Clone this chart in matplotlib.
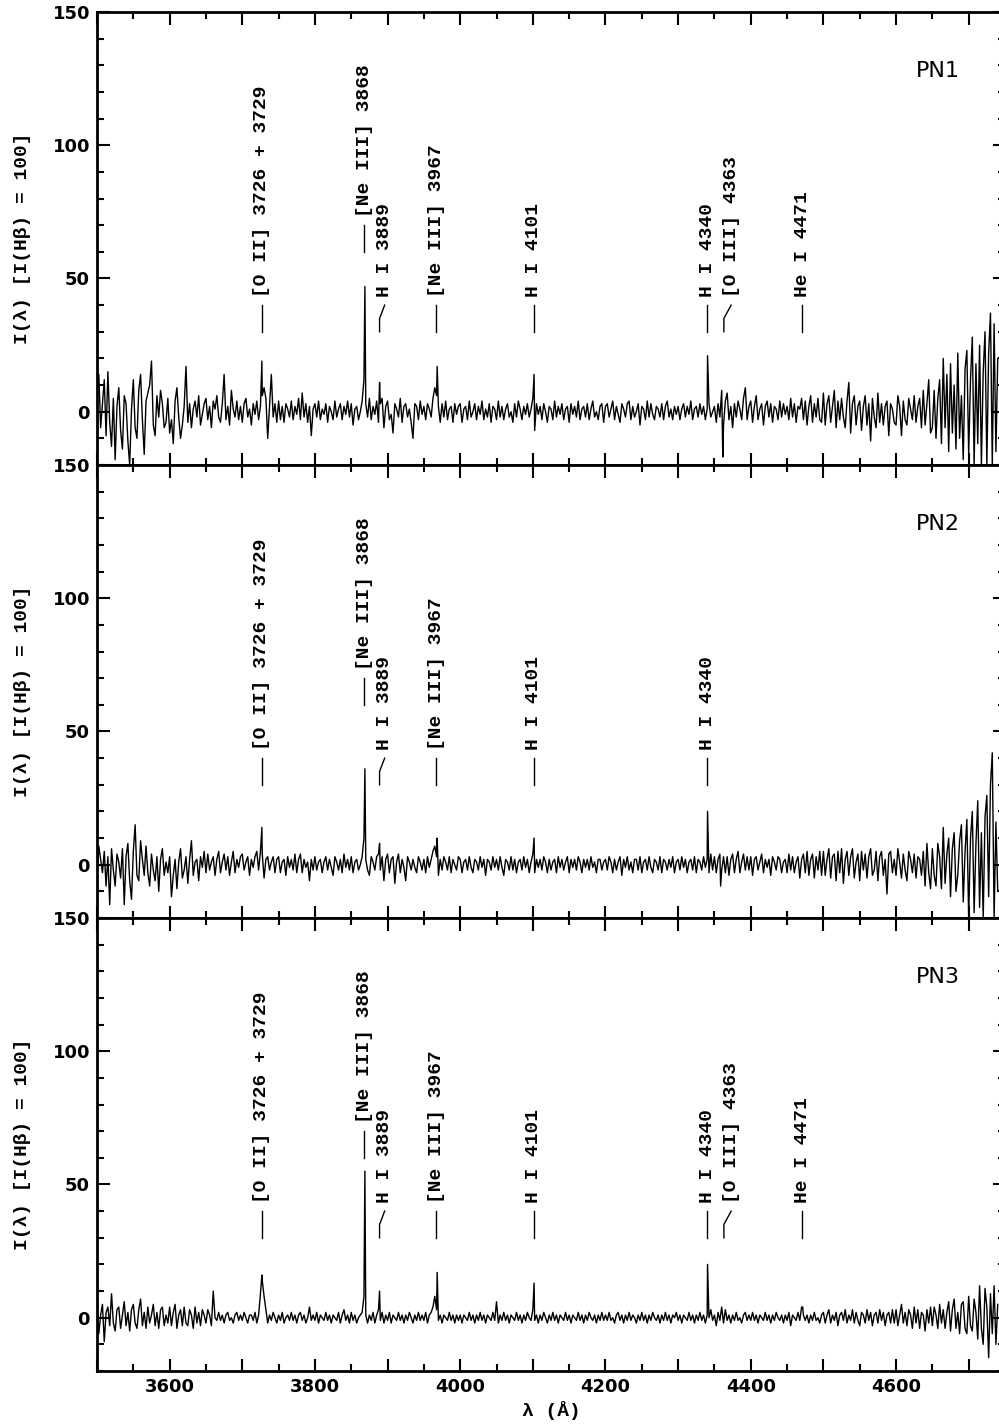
import numpy as np
import matplotlib
matplotlib.use('Agg')
from matplotlib import pyplot as plt
from matplotlib.ticker import MultipleLocator


wavelengths = np.arange(3500, 4742.5, 2.5)

pn1_flux = [
    # 3500
    8, 14, -6, 3, 12, -9, 15, -4, -13, 5, -18, 2, 9, -7, -14, 6, 3, -11, -20, 1,
    12, -6, -10, 8, 14, -3, -16, 4, 7, 10, 19, -5, -9, 6, -2, 8, 3, -6, -4, 5,
    # 3600
    -8, -3, -12, 4, 9, -2, -10, -5, 2, 17, -4, 3, -6, 1, 4, -2, 6, -5, -1, 3,
    5, -3, 2, -6, 4, 1, 6, -2, -4, 3, 14, -3, 2, -5, 8, 1, -2, 4, -3, 2,
    # 3700
    -4, 3, 5, -2, 1, -5, 3, -1, 4, -3, 2, 6, 9, 5, -10, 2, 14, -2, 3, -4,
    4, -3, 2, -4, 3, 1, -2, 4, -3, 2, -1, 5, -3, 7, -2, 3, -4, 2, -9, 1,
    # 3800
    3, -2, 4, -3, 1, -1, 3, -4, 2, 0, -3, 4, -2, 1, 3, -3, 2, -1, 4, -2,
    3, -5, 1, 2, -3, 0, 4, 12, 3, -2, 5, -3, 2, -1, 4, -4, 3, 5, -6, 2,
    # 3900
    4, -3, -1, -8, 3, 1, -2, 5, -4, 2, 3, -2, 1, -4, -10, 3, 2, -3, 4, -1,
    2, -3, 3, 1, -2, 5, 9, 6, 2, -4, 3, -2, 4, -3, 1, 2, -4, 3, -1, 2,
    # 4000
    3, -4, 1, 2, -3, 4, -2, 0, 3, -3, 2, -1, 4, -3, 1, -2, 3, -4, 2, 1,
    -3, 4, -2, 2, -3, 1, 3, -2, 0, -4, 3, -2, 4, 1, -3, 2, -1, 3, -2, 1,
    # 4100
    5, -7, 3, -1, 2, -3, 3, 0, -4, 2, 1, -3, 4, -2, 2, -1, 3, -3, 1, 2,
    -4, 3, -1, 2, -2, 4, -3, 1, 2, -2, 3, -3, 1, 4, -2, 0, -3, 2, 3, -4,
    # 4200
    2, 3, -2, 1, 4, -3, 2, -1, -4, 3, 1, -2, 3, 4, -3, 2, -2, 0, 3, -5,
    2, 1, -3, 4, -2, 3, -1, -3, 2, 1, -2, 3, -3, 2, 4, -2, 1, -3, 2, -1,
    # 4300
    2, -3, 1, 3, -2, 2, -1, 4, -3, 1, 2, -2, 3, -1, 2, -3, 1, 3, -2, 0,
    2, -4, 3, -2, 8, -5, 4, 7, -3, 2, -6, 3, -2, 4, 1, -3, 5, 9, -3, 2,
    # 4400
    4, -4, 2, 6, -3, 1, 3, -5, 2, 4, -2, 3, -4, 2, 1, -3, 4, -2, 3, -1,
    2, -3, 5, -2, 3, -4, 2, 1, 5, -3, 4, -5, 2, 6, -4, 3, -2, 5, -3, -4,
    # 4500
    7, -5, 3, 6, -4, 2, 8, -6, 4, -3, 5, -2, -6, 4, 11, -8, 3, 6, -5, 2,
    4, -7, 2, 6, -5, 3, -11, 5, -2, -6, 7, -4, 3, -5, 2, 4, -9, 3, 1, -4,
    # 4600
    -5, 6, 2, -9, 4, -3, -5, 5, 1, -3, 6, -4, 2, 5, -6, 8, -5, 3, 12, -8,
    -6, 8, -10, 5, 12, -12, 20, -6, 14, -15, 18, -8, 10, -14, 22, -10, 6, -18, 16, 23,
    # 4700
    -16, 12, 28, -20, 18, -12, 25, -20, 15, 30, -20, 22, 37, -20, 33, -15, 20,
]
pn1_peak_wl = [3727.0, 3868.8, 3889.0, 3968.3, 4101.7, 4340.5, 4361.5]
pn1_peak_flux = [19, 47, 11, 17, 14, 21, -17]

pn2_flux = [
    # 3500
    -6, 7, 2, -3, 5, -8, 3, -15, 6, -2, -8, 4, 1, -5, 6, -15, 3, 8, -6, -13,
    5, 15, -4, -6, 9, 2, -4, 7, -3, -8, 4, -2, -6, 3, -10, 2, 6, -4, 1, -3,
    # 3600
    3, -12, -4, 2, -9, 1, 6, -5, -2, 3, -7, 2, 9, -4, 1, 2, -6, 3, -1, 5,
    -3, 4, -2, 1, 3, -4, 2, 5, -3, 1, 4, -2, 3, -4, 1, 5, -3, 2, -1, 3,
    # 3700
    4, -2, 1, 3, -4, 2, -1, 3, 5, -2, 5, 4, -5, 2, 3, -2, 1, 3, -3, 2,
    3, -3, 1, 2, -4, 3, -1, 2, -2, 4, -3, 2, 4, -3, 2, -1, 1, -6, 2, -2,
    # 3800
    3, -2, 1, 2, -3, 1, 3, -2, 2, -1, -4, 3, 1, -2, 2, -3, 4, -1, 2, -2,
    3, -3, 1, 2, -2, 0, 3, 10, 2, -2, -4, 3, 1, -2, 3, 4, -2, 3, -6, 2,
    # 3900
    4, -3, 2, 3, -7, 1, 4, -3, 2, -1, -6, 3, 1, -2, 2, -1, -3, 3, 1, -2,
    2, -3, 3, -1, 2, 5, 7, 3, -4, 2, -2, 3, 1, -2, 3, -3, 2, 0, -2, 3,
    # 4000
    2, -3, 1, 2, -2, 3, -1, -3, 2, 1, -2, 3, -1, 2, -4, 2, 1, -2, 3, -1,
    2, -2, 3, -1, -4, 2, 1, -2, 3, -2, 2, -3, 1, 2, -2, 3, -1, 2, -3, 1,
    # 4100
    4, -3, 2, -1, 2, -2, 3, 1, -3, 2, -2, 1, 2, -3, 3, -1, 2, -2, 1, 3,
    -3, 2, -1, 2, -2, 3, 1, -3, 2, -1, 2, -2, 3, -1, 1, -3, 2, 2, -2, 1,
    # 4200
    2, -2, 3, 1, -3, 2, -2, 1, 3, -4, 2, -1, 3, -2, 1, -3, 2, 2, -2, 3,
    -3, 1, 2, -2, 3, -1, -3, 2, 1, -2, 3, -3, 2, 1, -2, 2, -1, 3, -3, 1,
    # 4300
    2, -2, 3, -1, 2, -3, 1, 2, -2, 3, -3, 2, 1, -2, 3, -1, 2, -3, 4, -2,
    3, -3, 2, 4, -2, 3, -3, 3, -4, 2, 4, -3, 2, 5, -3, 1, 4, -2, 3, -2,
    # 4400
    3, -4, 2, 3, -2, 1, 4, -3, 2, -1, 2, -4, 3, 1, -2, 3, 2, -3, 1, 2,
    -3, 4, -2, 3, -3, 1, 3, -5, 2, 4, -3, 5, -4, 2, 4, -5, 3, -2, 5, -4,
    # 4500
    5, -4, 2, 6, -5, 3, 4, -6, 5, -3, 6, -7, 2, 5, -4, 3, 6, -5, 1, 4,
    -6, 5, -2, 4, -5, 3, 6, -4, -2, 5, -6, 3, 5, -4, 2, -11, 4, 5, -3, 2,
    # 4600
    -4, 6, 1, -5, 4, -2, -6, 5, 2, -3, 4, -5, 3, 2, -4, 5, -8, 8, -3, -9,
    6, -4, -8, 8, 3, -9, 14, -7, 4, 10, -12, 6, 12, -10, -4, 9, 15, -14, 5, 17,
    # 4700
    -20, 10, 20, -18, 8, 24, -16, 12, -20, 18, 26, -12, 30, 42, -20, 16, -10,
]
pn2_peak_wl = [3727.0, 3868.8, 3889.0, 3968.3, 4101.7, 4340.5, 4358.5]
pn2_peak_flux = [14, 36, 8, 10, 10, 20, -8]

pn3_flux = [
    # 3500
    3, -6, 1, 5, -9, 2, 4, -3, 9, -2, -5, 3, 4, -4, 1, 6, -3, 2, -5, 3,
    5, -2, -4, 3, 7, -3, 2, -4, 4, -2, 1, 5, -3, 2, -4, 3, 4, -3, 1, -2,
    # 3600
    4, -3, 2, 5, -4, 1, 3, -3, 4, -2, -3, 3, 1, -4, 4, -2, 2, -3, 3, 1,
    -2, 3, 1, -3, 10, 0, -1, 2, -1, 1, -2, 1, 2, -1, 0, -2, 1, 2, -1, 1,
    # 3700
    -1, 2, 0, -2, 1, 1, -1, 2, -2, 1, 9, 14, 8, 3, -2, 1, -1, 2, 0, -2,
    1, -1, 2, -2, 0, 1, -1, 2, -1, 1, -2, 1, 2, -1, 1, -2, 0, 4, -1, 1,
    # 3800
    -1, 2, -2, 1, 0, -1, 2, -1, 1, -2, 1, 0, -1, 2, -2, 1, 3, -1, 1, -2,
    2, -1, 1, -2, 0, 1, 2, 8, 1, -2, 1, -1, 2, -2, 1, 3, -1, 2, -2, 1,
    # 3900
    -1, 2, -2, 1, 0, -1, 2, -1, 1, -2, 1, -1, 2, 0, -2, 1, -1, 2, -1, 1,
    -1, 2, -2, 1, 2, 4, 8, 3, -1, 1, -2, 1, 0, -1, 2, -1, 1, -2, 1, -1,
    # 4000
    1, -2, 1, 0, -1, 2, -1, 1, -2, 1, -1, 2, -1, 1, -2, 1, 0, -1, 2, -1,
    6, -2, 1, -1, 2, -1, 1, -2, 1, 0, -1, 2, -1, 1, -2, 1, -1, 2, 0, -1,
    # 4100
    3, -1, 1, -2, 1, -1, 2, 0, -2, 1, -1, 2, -1, 1, -2, 1, 0, -1, 2, -1,
    1, -2, 1, 0, -1, 2, -1, 1, -2, 1, -1, 2, 0, -1, 1, -2, 1, -1, 2, -1,
    # 4200
    1, -1, 2, -1, 0, -2, 1, 2, -1, 1, -2, 1, -1, 2, -1, 1, 0, -2, 1, -1,
    2, -1, 1, -2, 1, -1, 2, 0, -1, 1, -2, 1, -1, 2, -1, 1, -2, 1, 0, 2,
    # 4300
    -1, 1, -2, 1, 0, -1, 2, -1, 1, -2, 1, -1, 2, -1, 1, -2, 1, 0, 3, -1,
    1, -3, 2, -1, 4, -2, 3, -1, 1, -2, 1, -1, 2, -1, 0, -2, 1, 2, -1, 1,
    # 4400
    -1, 2, -1, 1, -2, 1, 0, -1, 2, -1, 1, -2, 1, -1, 2, 0, -1, 1, -2, 1,
    -1, 2, -3, 1, 0, -1, 2, -1, 4, 1, -1, 1, -2, 1, -1, 2, -1, 0, -2, 1,
    # 4500
    2, -2, 1, 3, -2, 1, -1, 2, -3, 1, 2, -1, 3, -2, 1, -1, 3, -2, 2, -1,
    -3, 2, 1, -2, 3, -1, 2, -3, 1, 2, -2, 3, -1, 2, -3, 1, 2, -2, 3, -2,
    # 4600
    3, -3, 1, 5, -2, 2, -3, 3, 1, -4, 4, -2, 3, -4, 2, 1, -5, 3, -2, 4,
    -3, 4, 1, -4, 5, -2, 3, -4, 2, 6, -5, 3, 7, -4, 2, -6, 5, 6, -4, -6,
    # 4700
    8, -3, -5, 7, 2, -8, 12, -4, -10, 11, 4, -15, 9, -6, 12, -10, 5,
]
pn3_peak_wl = [3727.0, 3868.8, 3889.0, 3968.3, 4101.7, 4340.5, 4471.5]
pn3_peak_flux = [16, 55, 10, 17, 13, 20, 4]

panel_names = ['PN1', 'PN2', 'PN3']

label_wl = [3727, 3868, 3889, 3967, 4101, 4340, 4363, 4471]
label_text = ['[O II] 3726 + 3729', '[Ne III] 3868', 'H I 3889', '[Ne III] 3967',
              'H I 4101', 'H I 4340', '[O III] 4363', 'He I 4471']
panel_label_count = [8, 6, 8]  # PN2 has no [O III] 4363 / He I 4471 marks

x_ticks = [3600, 3800, 4000, 4200, 4400, 4600]
y_ticks = [0, 50, 100, 150]

MONO = ['Liberation Mono', 'DejaVu Sans Mono']


def merge_spectrum(flux: list, peak_wl: list, peak_flux: list) -> tuple:
    # put the line peaks in between the grid samples
    assert len(flux) == len(wavelengths), len(flux)
    x = np.concatenate([wavelengths, np.array(peak_wl)])
    y = np.concatenate([np.array(flux, dtype=float), np.array(peak_flux, dtype=float)])
    order = np.argsort(x, kind='stable')
    return x[order], y[order]


def draw_line_label(ax, wl: float, text: str) -> None:
    base = 60 if wl == 3868 else 30  # the [Ne III] 3868 mark sits higher
    shift = {3889: 7, 4363: 10}.get(wl, 0)  # crowded ones get a bent tick
    if shift:
        ax.plot([wl, wl, wl + shift], [base, base + 5, base + 10], color='black', lw=1.0)
    else:
        ax.plot([wl, wl], [base, base + 10], color='black', lw=1.0)
    ax.text(wl + shift, base + 13, text, rotation=90, ha='center', va='bottom',
            family=MONO, fontweight='bold', fontsize=14)


def style_axes(ax, show_xlabels: bool) -> None:
    ax.set_xlim(3500, 4750)
    ax.set_ylim(-20, 150)
    majors = np.arange(3500, 4751, 100)
    ax.set_xticks(majors, [str(v) if v in x_ticks else '' for v in majors])
    ax.xaxis.set_minor_locator(MultipleLocator(50))
    ax.set_yticks(y_ticks)
    ax.yaxis.set_minor_locator(MultipleLocator(10))
    ax.tick_params(which='both', direction='in', top=True, right=True, width=1.5)
    ax.tick_params(which='major', length=9)
    ax.tick_params(which='minor', length=5)
    ax.tick_params(axis='both', labelsize=13, pad=5)
    for lab in ax.get_yticklabels() + ax.get_xticklabels():
        lab.set_fontweight('bold')
    if not show_xlabels:
        ax.tick_params(axis='x', labelbottom=False)
    for sp in ax.spines.values():
        sp.set_linewidth(2.0)


def main() -> None:
    fig = plt.figure(figsize=(9.99, 14.26), dpi=100)
    W, H = 999.0, 1426.0
    left, right = 97.0, 1005.0
    tops = [12.0, 465.0, 918.0]
    height = 453.0

    fluxes = [pn1_flux, pn2_flux, pn3_flux]
    peak_wls = [pn1_peak_wl, pn2_peak_wl, pn3_peak_wl]
    peak_fluxes = [pn1_peak_flux, pn2_peak_flux, pn3_peak_flux]

    for i in range(3):
        ax = fig.add_axes([left / W, (H - tops[i] - height) / H, (right - left) / W, height / H])
        x, y = merge_spectrum(fluxes[i], peak_wls[i], peak_fluxes[i])
        ax.plot(x, y, color='black', lw=1.0)
        n = panel_label_count[i]
        for wl, txt in zip(label_wl[:n], label_text[:n]):
            draw_line_label(ax, wl, txt)
        ax.text(4657, 128, panel_names[i], ha='center', va='center', fontsize=16)
        style_axes(ax, show_xlabels=(i == 2))
        fig.text(23 / W, (H - tops[i] - height / 2) / H, 'I(λ) [I(Hβ) = 100]', rotation=90,
                 ha='center', va='center', family=MONO, fontsize=14, fontweight='bold')
        if i == 2:
            ax.set_xlabel('λ (Å)', family=MONO, fontsize=14, fontweight='bold', labelpad=4)

    fig.savefig('out.png', dpi=100)


if __name__ == '__main__':
    main()
